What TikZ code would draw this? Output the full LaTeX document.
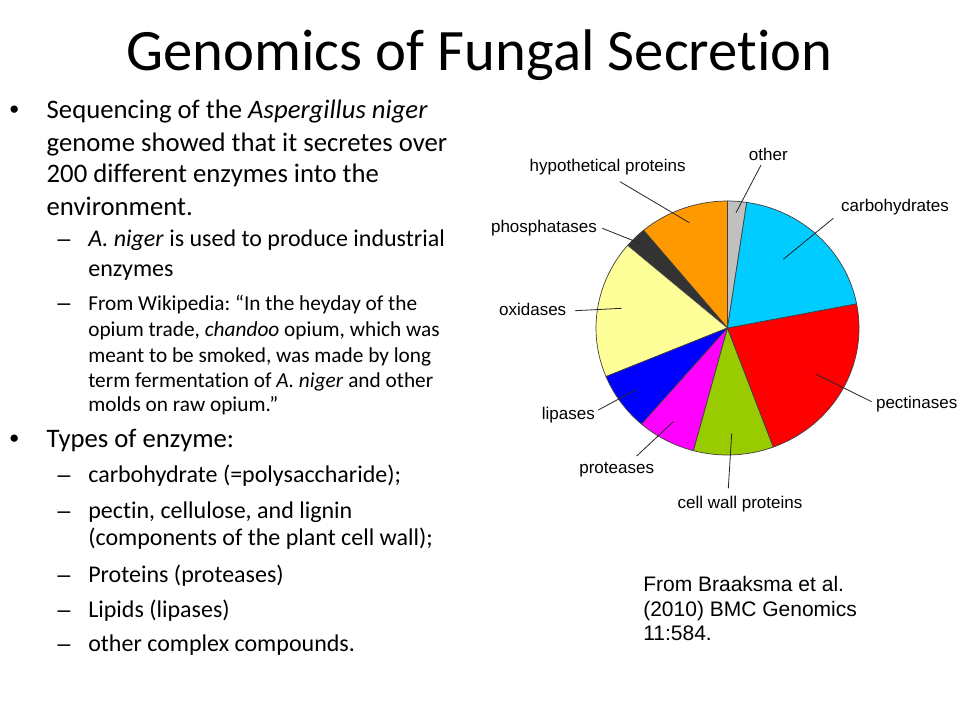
\documentclass[tikz,border=0pt]{standalone}
\usepackage{fontspec}
\setmainfont{Carlito}[Ligatures=NoCommon]
\newfontfamily\arialf{Liberation Sans}
\newcommand\szTitle{\fontsize{58.7}{70}\selectfont}
\newcommand\szA{\fontsize{26.7}{32}\selectfont}
\newcommand\szB{\fontsize{24}{29}\selectfont}
\newcommand\szC{\fontsize{21.3}{26}\selectfont}
\newcommand\szLab{\arialf\fontsize{17}{20}\selectfont}
\newcommand\szCap{\arialf\fontsize{21}{25}\selectfont}
\definecolor{cOther}{HTML}{C0C0C0}
\definecolor{cHyp}{HTML}{FF9900}
\definecolor{cPhos}{HTML}{333333}
\definecolor{cOxi}{HTML}{FFFF99}
\definecolor{cLip}{HTML}{0000FF}
\definecolor{cProt}{HTML}{FF00FF}
\definecolor{cCell}{HTML}{99CC00}
\definecolor{cPect}{HTML}{FF0000}
\definecolor{cCarb}{HTML}{00CCFF}
\definecolor{edgec}{HTML}{404040}
\newcommand\pieslice[3]{\filldraw[fill=#3, draw=edgec, line width=0.7pt, line join=round] (pc) -- ++({-(#1)}:{131.5 and 127}) arc[start angle={-(#1)}, end angle={-(#2)}, x radius=131.5, y radius=127] -- cycle;}
\frenchspacing
\begin{document}
\begin{tikzpicture}[x=1pt, y=-1pt,
  txt/.style={anchor=base west, inner sep=0pt, outer sep=0pt},
  bul/.style={anchor=base west, inner sep=0pt, outer sep=0pt, font=\arialf\fontsize{26.7}{32}\selectfont},
  dsh/.style={anchor=base west, inner sep=0pt, outer sep=0pt, font=\arialf\fontsize{23}{28}\selectfont},
  lab/.style={anchor=base, inner sep=0pt, font=\szLab},
  leader/.style={draw=black!85, line width=0.8pt}]
\useasboundingbox (0,0) rectangle (960,720);
\fill[white] (0,0) rectangle (960,720);
% title
\node[anchor=base, inner sep=0pt, font=\szTitle] (title) at (479.5,70) {Genomics of Fungal Secretion};
% bullets, level 1
\node[bul] (b1) at (9.5,118.3) {•};
\node[txt, font=\szA] (l1) at (46.7,118.3) {Sequencing of the \textit{Aspergillus niger}};
\node[txt, font=\szA] (l2) at (46.7,151) {genome showed that it secretes over};
\node[txt, font=\szA] (l3) at (46.7,182.5) {200 different enzymes into the};
\node[txt, font=\szA] (l4) at (46.7,215) {environment.};
\node[dsh] (d1) at (57.5,246.7) {–};
\node[txt, font=\szB] (l5) at (88.3,246.7) {\textit{A. niger} is used to produce industrial};
\node[txt, font=\szB] (l6) at (88.3,276.7) {enzymes};
\node[dsh] (d2) at (57.5,310) {–};
\node[txt, font=\szC] (l7) at (88.3,310) {From Wikipedia: “In the heyday of the};
\node[txt, font=\szC] (l8) at (88.3,336.5) {opium trade, \textit{chandoo} opium, which was};
\node[txt, font=\szC] (l9) at (88.3,362) {meant to be smoked, was made by long};
\node[txt, font=\szC] (l10) at (88.3,387) {term fermentation of \textit{A. niger} and other};
\node[txt, font=\szC] (l11) at (88.3,411.7) {molds on raw opium.”};
\node[bul] (b2) at (9.5,447.3) {•};
\node[txt, font=\szA] (l12) at (46.7,447.3) {Types of enzyme:};
\node[dsh] (d3) at (57.5,482) {–};
\node[txt, font=\szB] (l13) at (88.3,482) {carbohydrate (=polysaccharide);};
\node[dsh] (d4) at (57.5,518) {–};
\node[txt, font=\szB] (l14) at (88.3,518) {pectin, cellulose, and lignin};
\node[txt, font=\szB] (l15) at (88.3,545) {(components of the plant cell wall);};
\node[dsh] (d5) at (57.5,582) {–};
\node[txt, font=\szB] (l16) at (88.3,582) {Proteins (proteases)};
\node[dsh] (d6) at (57.5,617) {–};
\node[txt, font=\szB] (l17) at (88.3,617) {Lipids (lipases)};
\node[dsh] (d7) at (57.5,651) {–};
\node[txt, font=\szB] (l18) at (88.3,651) {other complex compounds.};
% pie
\coordinate (pc) at (727.5,328);
\pieslice{81.6}{90}{cOther}
\pieslice{90}{129.7}{cHyp}
\pieslice{129.7}{139.4}{cPhos}
\pieslice{139.4}{202.5}{cOxi}
\pieslice{202.5}{229.2}{cLip}
\pieslice{229.2}{255}{cProt}
\pieslice{255}{290.4}{cCell}
\pieslice{290.4}{371}{cPect}
\pieslice{11}{81.6}{cCarb}
% labels
\node[lab] (tOther) at (768.3,160.7) {other};
\node[lab] (tHyp) at (607.7,171.7) {hypothetical proteins};
\node[lab] (tCarb) at (895,211.7) {carbohydrates};
\node[lab] (tPhos) at (544,232.7) {phosphatases};
\node[lab] (tOxi) at (532.7,315.7) {oxidases};
\node[lab] (tPect) at (916.7,408.3) {pectinases};
\node[lab] (tLip) at (568.3,419.3) {lipases};
\node[lab] (tProt) at (616.7,473.3) {proteases};
\node[lab] (tCell) at (740,508.3) {cell wall proteins};
% leader ends
\coordinate (oA) at (761,165); \coordinate (oB) at (736,212.7);
\coordinate (hA) at (620,181.7); \coordinate (hB) at (689.3,222.7);
\coordinate (cA) at (833.3,218.3); \coordinate (cB) at (783.3,259.3);
\coordinate (phA) at (602.3,228.3); \coordinate (phB) at (640,243.3);
\coordinate (xA) at (575,310.7); \coordinate (xB) at (621.7,308.3);
\coordinate (pA) at (871.7,401.7); \coordinate (pB) at (816,374.3);
\coordinate (lA) at (598.3,410); \coordinate (lB) at (636.7,389.3);
\coordinate (prA) at (636.7,456); \coordinate (prB) at (673.3,421.7);
\coordinate (wA) at (728.3,488.3); \coordinate (wB) at (731.7,433.3);
\draw[leader] (oA) -- (oB);
\draw[leader] (hA) -- (hB);
\draw[leader] (cA) -- (cB);
\draw[leader] (phA) -- (phB);
\draw[leader] (xA) -- (xB);
\draw[leader] (pA) -- (pB);
\draw[leader] (lA) -- (lB);
\draw[leader] (prA) -- (prB);
\draw[leader] (wA) -- (wB);
% caption
\node[txt, font=\szCap] (cap1) at (643.3,591.7) {From Braaksma et al.};
\node[txt, font=\szCap] (cap2) at (643.3,616) {(2010) BMC Genomics};
\node[txt, font=\szCap] (cap3) at (643.3,640) {11:584.};
\end{tikzpicture}
\end{document}
